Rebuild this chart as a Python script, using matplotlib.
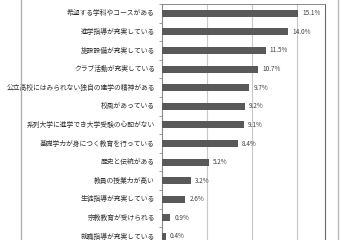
import matplotlib
matplotlib.use("Agg")
import matplotlib.pyplot as plt
from matplotlib.lines import Line2D

plt.rcParams['font.family'] = ['Noto Sans CJK JP', 'DejaVu Sans']

categories = [
    "希望する学科やコースがある",
    "進学指導が充実している",
    "施設設備が充実している",
    "クラブ活動が充実している",
    "公立高校にはみられない独自の建学の精神がある",
    "校風があっている",
    "系列大学に進学でき大学受験の心配がない",
    "基礎学力が身につく教育を行っている",
    "歴史と伝統がある",
    "教員の授業力が高い",
    "生徒指導が充実している",
    "宗教教育が受けられる",
    "就職指導が充実している",
]
values = [15.1, 14.0, 11.5, 10.7, 9.7, 9.2, 9.1, 8.4, 5.2, 3.2, 2.6, 0.9, 0.4]
grid_ticks = [5, 10, 15]

W, H = 360, 240
fig = plt.figure(figsize=(W / 100, H / 100), dpi=100)
fig.patch.set_facecolor("white")

ax = fig.add_axes([162 / W, 0.0, (325 - 162) / W, 1 - 4 / H])
pos = list(range(len(categories)))
ax.barh(pos, values, height=0.38, color="#595959", zorder=3)
ax.set_xlim(0, 18.1)
ax.set_ylim(-0.5 + 236 / 18.6, -0.5)

for x in grid_ticks:
    ax.axvline(x, color="#c8c8c8", lw=0.8, zorder=1)

for y, v in zip(pos, values):
    ax.text(v + 0.45, y, f"{v:.1f}%", va="center", ha="left",
            fontsize=4.6, color="#404040")

ax.set_yticks([p + 0.5 for p in pos[:-1]] + [-0.5])
ax.set_yticklabels([])
ax.tick_params(axis="y", length=2.5, width=0.6, color="#888888", direction="out")
ax.set_xticks([])
for p, c in zip(pos, categories):
    ax.text(-0.78, p, c, ha="right", va="center", fontsize=4.9, color="#303030")

ax.spines["bottom"].set_visible(False)
ax.spines["left"].set_color("#8a8a8a")
ax.spines["left"].set_linewidth(0.8)
ax.spines["top"].set_color("#8a8a8a")
ax.spines["top"].set_linewidth(0.7)
ax.spines["right"].set_color("#6a6a6a")
ax.spines["right"].set_linewidth(0.8)

fig.add_artist(Line2D([20.5 / W, 20.5 / W], [0, 1], color="#b0b0b0", lw=1.0))
fig.add_artist(Line2D([338 / W, 338 / W], [0, 1], color="#b8b8b8", lw=1.0))

fig.savefig("out.png", dpi=100, facecolor="white")
